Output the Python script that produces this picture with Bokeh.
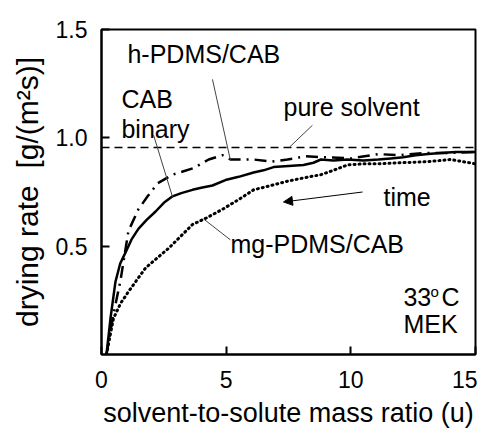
from bokeh.plotting import figure
from bokeh.models import Range1d, FixedTicker, Arrow, NormalHead, PrintfTickFormatter
from bokeh.core.properties import value
from bokeh.embed import file_html
from bokeh.resources import INLINE

FONT = "Liberation Sans"

# --- data ---
x_ticks = [0, 5, 10, 15]
y_ticks = [0.5, 1.0, 1.5]

pure_solvent_rate = 0.955

cab_u = [0.2, 0.36, 0.56, 0.75, 0.96, 1.2, 1.48, 1.8, 2.17, 2.5, 2.85, 3.2, 3.65, 4.0, 4.45,
         4.97, 5.5, 6.1, 6.5, 6.9, 7.5, 8.1, 8.5, 8.8, 9.3, 9.87, 10.5, 11.1, 11.6, 12.1,
         12.6, 13.1, 13.6, 14.2, 15.0]
cab_r = [0.0, 0.166, 0.336, 0.42, 0.47, 0.53, 0.58, 0.62, 0.66, 0.70, 0.73, 0.745, 0.76,
         0.77, 0.78, 0.805, 0.82, 0.84, 0.85, 0.865, 0.87, 0.875, 0.885, 0.90, 0.895, 0.90,
         0.895, 0.90, 0.905, 0.91, 0.92, 0.925, 0.93, 0.935, 0.935]

h_u = [0.2, 0.45, 0.76, 1.08, 1.48, 1.85, 2.25, 2.85, 3.69, 4.3, 4.85, 5.17, 6.1, 6.8,
       7.46, 8.2, 9.0, 10.0, 11.1, 11.9, 13.0, 14.0, 15.0]
h_r = [0.0, 0.17, 0.34, 0.57, 0.67, 0.73, 0.79, 0.83, 0.86, 0.90, 0.92, 0.90, 0.90, 0.89,
       0.90, 0.915, 0.91, 0.905, 0.925, 0.92, 0.93, 0.93, 0.935]

mg_u = [0.2, 0.35, 0.48, 0.76, 1.08, 1.77, 2.69, 3.65, 4.2, 4.85, 5.57, 6.1, 6.8, 7.46,
        8.1, 8.8, 9.3, 9.87, 10.5, 11.1, 12.0, 13.1, 14.0, 15.0]
mg_r = [0.0, 0.09, 0.166, 0.235, 0.29, 0.40, 0.49, 0.60, 0.63, 0.67, 0.72, 0.76, 0.78,
        0.80, 0.815, 0.83, 0.85, 0.875, 0.88, 0.88, 0.885, 0.89, 0.90, 0.88]

p = figure(width=477, height=430, x_range=Range1d(0, 15), y_range=Range1d(0, 1.5),
           output_backend="svg", toolbar_location=None,
           min_border_left=101, min_border_right=2, min_border_top=29, min_border_bottom=75)
p.background_fill_color = "white"
p.border_fill_color = "white"
p.outline_line_color = "black"
p.outline_line_width = 2
p.xgrid.visible = False
p.ygrid.visible = False

for ax, ticks in ((p.xaxis, x_ticks), (p.yaxis, y_ticks)):
    ax.ticker = FixedTicker(ticks=ticks)
    ax.major_tick_in = 8
    ax.major_tick_out = 0
    ax.minor_tick_line_color = None
    ax.axis_line_width = 2
    ax.major_tick_line_width = 2
    ax.major_label_text_font = FONT
    ax.major_label_text_font_size = "23px"
    ax.major_label_text_color = "black"
    ax.axis_label_text_font = FONT
    ax.axis_label_text_font_style = "normal"
    ax.axis_label_text_color = "black"

p.xaxis.axis_label_text_font_size = "27px"
p.yaxis.axis_label_text_font_size = "30px"
p.yaxis.formatter = PrintfTickFormatter(format="%.1f")
p.xaxis.axis_label = "solvent-to-solute mass ratio (u)"
p.yaxis.axis_label = "drying rate\u00a0\u00a0[g/(m\u00b2s)]"
p.xaxis.major_label_standoff = 16
p.yaxis.major_label_standoff = 14
p.xaxis.axis_label_standoff = 7
p.yaxis.axis_label_standoff = 9

# pure solvent
p.line([0, 15], [pure_solvent_rate, pure_solvent_rate], line_color="black",
       line_width=1.5, line_dash="8 5")

# curves
p.line(h_u, h_r, line_color="black", line_width=2.5, line_dash="12 6 2 6")
p.line(mg_u, mg_r, line_color="black", line_width=3, line_dash="1 4", line_cap="round")
p.line(cab_u, cab_r, line_color="black", line_width=2.5)

# leader lines
lead_x0 = [4.45, 2.09, 8.46, 4.09]
lead_y0 = [1.27, 1.012, 1.058, 0.626]
lead_x1 = [5.17, 2.85, 7.54, 5.17]
lead_y1 = [0.897, 0.727, 0.957, 0.529]
p.segment(lead_x0, lead_y0, lead_x1, lead_y1, line_color="#444444", line_width=1)

# time arrow
p.add_layout(Arrow(end=NormalHead(size=9, fill_color="black", line_color="black"),
                   x_start=10.47, y_start=0.75, x_end=7.3, y_end=0.704,
                   line_color="black", line_width=1))

lab_x = [1.04, 0.80, 0.80, 7.3, 11.31, 5.17, 12.11, 12.11]
lab_y = [1.385, 1.178, 1.04, 1.141, 0.727, 0.511, 0.267, 0.143]
lab_t = ["h-PDMS/CAB", "CAB", "binary", "pure solvent", "time", "mg-PDMS/CAB", "33", "MEK"]
p.text(lab_x, lab_y, text=lab_t, text_font=value(FONT), text_font_size="25px",
       text_baseline="middle", text_align="left", text_color="black")
p.text([13.2], [0.29], text=["o"], text_font=value(FONT), text_font_size="15px",
       text_baseline="middle", text_align="left", text_color="black")
p.text([13.64], [0.267], text=["C"], text_font=value(FONT), text_font_size="25px",
       text_baseline="middle", text_align="left", text_color="black")

open("out.html", "w").write(file_html(p, INLINE))
